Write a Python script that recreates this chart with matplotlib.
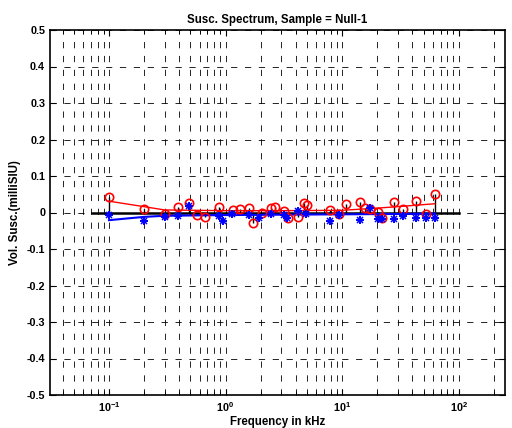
import numpy as np
import matplotlib
matplotlib.use("Agg")
import matplotlib.pyplot as plt
from matplotlib.ticker import LogLocator, NullFormatter

plt.rcParams["font.family"] = ["Liberation Sans", "DejaVu Sans"]
plt.rcParams["font.weight"] = "bold"
plt.rcParams["mathtext.fontset"] = "custom"
plt.rcParams["mathtext.rm"] = "Liberation Sans:bold"
plt.rcParams["mathtext.bf"] = "Liberation Sans:bold"
plt.rcParams["lines.scale_dashes"] = False

# in-phase susceptibility (red circles), kHz / milliSIU
red_freq = [0.1, 0.2, 0.3, 0.39, 0.49, 0.57, 0.67, 0.88, 1.15, 1.34, 1.58, 1.71,
            2.06, 2.45, 2.67, 3.2, 3.45, 4.15, 4.73, 4.99, 7.9, 9.4, 10.9, 14.2,
            15.7, 17.3, 20.4, 21.8, 27.8, 33.4, 43.4, 52.8, 62.6]
red_vals = [0.043, 0.009, -0.003, 0.016, 0.025, -0.007, -0.012, 0.014, 0.006, 0.009,
            0.011, -0.028, 0.0, 0.013, 0.014, 0.003, -0.016, -0.012, 0.025, 0.02,
            0.006, -0.003, 0.023, 0.029, 0.011, 0.009, 0.002, -0.016, 0.029, 0.009,
            0.032, -0.003, 0.052]

# quadrature susceptibility (blue stars)
blue_freq = [0.1, 0.2, 0.3, 0.39, 0.49, 0.88, 0.96, 1.14, 1.58, 1.93, 2.45, 3.2,
             3.4, 4.15, 4.9, 7.9, 9.4, 14.2, 17.3, 20.4, 21.8, 27.8, 33.4, 43.4,
             52.8, 62.6]
blue_vals = [-0.006, -0.023, -0.012, -0.009, 0.019, -0.009, -0.023, -0.003, -0.007,
             -0.016, -0.005, -0.007, -0.016, 0.004, -0.005, -0.023, -0.007, -0.021,
             0.013, -0.018, -0.018, -0.018, -0.009, -0.016, -0.016, -0.016]

# smoothed trends
red_fit_freq = [0.1, 0.2, 0.3, 1.0, 3.0, 10.0, 20.0, 30.0, 62.6]
red_fit_vals = [0.031, 0.016, 0.007, 0.005, 0.005, 0.006, 0.012, 0.016, 0.024]
blue_fit_freq = [0.1, 0.2, 0.3, 1.0, 3.0, 10.0, 30.0, 62.6]
blue_fit_vals = [-0.021, -0.012, -0.009, -0.007, -0.006, -0.005, -0.004, -0.003]

baseline_freq = [0.071, 100]

y_ticks = [-0.5, -0.4, -0.3, -0.2, -0.1, 0, 0.1, 0.2, 0.3, 0.4, 0.5]
y_labels = ["-0.5", "-0.4", "-0.3", "-0.2", "-0.1", "0", "0.1", "0.2", "0.3", "0.4", "0.5"]
x_ticks = [0.1, 1, 10, 100]
x_labels = [r"$10^{-1}$", r"$10^{0}$", r"$10^{1}$", r"$10^{2}$"]

fig = plt.figure(figsize=(5.12, 4.28), dpi=100)
ax = fig.add_axes([50 / 512, 1 - 395 / 428, 455 / 512, 365 / 428])

dash = (0, (4.5, 5.5))
ax.set_xscale("log")
ax.set_xlim(0.0312, 250)
ax.set_ylim(-0.5, 0.5)

ax.xaxis.set_major_locator(LogLocator(base=10))
ax.xaxis.set_minor_locator(LogLocator(base=10, subs=np.arange(2, 10)))
ax.xaxis.set_minor_formatter(NullFormatter())
ax.set_xticks(x_ticks)
ax.set_xticklabels(x_labels)
ax.set_yticks(y_ticks)
ax.set_yticklabels(y_labels)

ax.grid(True, which="major", axis="both", color="black", linestyle=dash, linewidth=0.6)
ax.grid(True, which="minor", axis="x", color="black", linestyle=dash, linewidth=0.6)
ax.set_axisbelow(True)

ax.plot(baseline_freq, [0, 0], color="black", linewidth=1.8, zorder=2)
ax.vlines(red_freq, 0, red_vals, color="black", linewidth=1.0, zorder=2)
ax.plot(red_freq, red_vals, linestyle="none", marker="o", markersize=6,
        markerfacecolor="none", markeredgecolor="red", markeredgewidth=1.2, zorder=4)
ax.plot(blue_freq, blue_vals, linestyle="none", marker="+", markersize=6,
        color="blue", markeredgewidth=1.4, zorder=4)
ax.plot(blue_freq, blue_vals, linestyle="none", marker="x", markersize=4,
        color="blue", markeredgewidth=1.1, zorder=4)
ax.plot(red_fit_freq, red_fit_vals, color="red", linewidth=1.0, zorder=3)
ax.plot(blue_fit_freq, blue_fit_vals, color="blue", linewidth=1.5, zorder=3)

ax.tick_params(which="both", direction="in", top=True, right=True, labelsize=7.8)
ax.tick_params(which="major", length=4)
ax.tick_params(which="minor", length=3)
for s in ax.spines.values():
    s.set_linewidth(1.2)

ax.set_title("Susc. Spectrum, Sample = Null-1", fontsize=8.3, fontweight="bold", pad=5)
ax.set_xlabel("Frequency in kHz", fontsize=8.3, fontweight="bold", labelpad=2)
ax.set_ylabel("Vol. Susc.(milliSIU)", fontsize=8.3, fontweight="bold", labelpad=4)

fig.savefig("out.png", dpi=100)
